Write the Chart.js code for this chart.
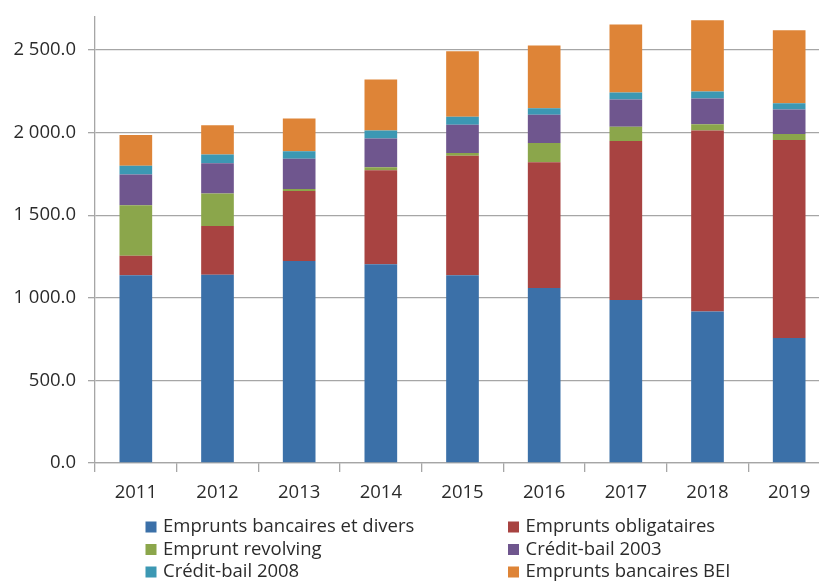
<!DOCTYPE html>
<html>
<head>
<meta charset="utf-8">
<script src="https://cdn.jsdelivr.net/npm/chart.js@4"></script>
<style>
  html, body { margin: 0; padding: 0; background: #fff; overflow: hidden; width: 819px; height: 581px; }
  canvas { display: block; }
</style>
</head>
<body>
<canvas id="c" width="830" height="581"></canvas>
<script>
const years = ['2011', '2012', '2013', '2014', '2015', '2016', '2017', '2018', '2019'];
const empruntsBancaires = [1137, 1140, 1223, 1203, 1137, 1060, 987, 917, 756];
const empruntsObligataires = [118, 295, 423, 570, 723, 760, 962, 1096, 1199];
const empruntRevolving = [305, 197, 12, 17, 16, 117, 86, 37, 36];
const creditBail2003 = [187, 182, 184, 175, 171, 171, 166, 157, 149];
const creditBail2008 = [52, 54, 46, 48, 49, 40, 42, 42, 38];
const empruntsBEI = [186, 177, 198, 309, 397, 379, 411, 431, 442];
const yTickValues = [0, 500, 1000, 1500, 2000, 2500];

const FONT = '"Open Sans"';
const FSIZE = 18.5;
const TEXT = '#2b2b2b';
const GRID = '#A6A6A6';

function fmt(v) {
  const s = v.toFixed(1);
  const [i, d] = s.split('.');
  return i.replace(/\B(?=(\d{3})+(?!\d))/g, ' ') + '.' + d;
}

const legendPlugin = {
  id: 'twoColLegend',
  afterDraw(chart) {
    const ctx = chart.ctx;
    const cols = [145.5, 508];
    const rows = [527, 549.5, 572];
    ctx.save();
    ctx.font = FSIZE + 'px ' + FONT;
    ctx.textBaseline = 'middle';
    ctx.textAlign = 'left';
    chart.data.datasets.forEach((ds, i) => {
      const x = cols[i % 2];
      const y = rows[Math.floor(i / 2)];
      ctx.fillStyle = ds.backgroundColor;
      ctx.fillRect(x, y - 5.5, 11, 11);
      ctx.fillStyle = TEXT;
      ctx.fillText(ds.label, x + 17.5, y);
    });
    ctx.restore();
  }
};

const mk = (label, data, color) => ({
  label, data, backgroundColor: color, borderWidth: 0,
  barPercentage: 0.5, categoryPercentage: 0.8
});

new Chart(document.getElementById('c'), {
  type: 'bar',
  data: {
    labels: years,
    datasets: [
      mk('Emprunts bancaires et divers', empruntsBancaires, '#3B70A8'),
      mk('Emprunts obligataires', empruntsObligataires, '#A84341'),
      mk('Emprunt revolving', empruntRevolving, '#8BA64B'),
      mk('Crédit-bail 2003', creditBail2003, '#6F568E'),
      mk('Crédit-bail 2008', creditBail2008, '#3C98B3'),
      mk('Emprunts bancaires BEI', empruntsBEI, '#DE8437')
    ]
  },
  options: {
    responsive: false,
    animation: false,
    layout: { padding: { top: 17, right: 0, left: 0, bottom: 0 } },
    plugins: {
      legend: { display: false },
      tooltip: { enabled: false }
    },
    scales: {
      x: {
        stacked: true,
        afterFit(scale) { scale.height = 118; scale.paddingLeft = 0; scale.paddingRight = 0; },
        grid: { display: true, drawOnChartArea: false, drawTicks: true, tickLength: 9, color: GRID, lineWidth: 1.3, offset: true },
        border: { color: GRID, width: 1.3 },
        ticks: { color: TEXT, font: { family: FONT, size: FSIZE }, padding: 10, maxRotation: 0 }
      },
      y: {
        stacked: true,
        min: 0,
        max: 2700,
        afterFit(scale) { scale.width = 95; scale.paddingTop = 0; scale.paddingBottom = 0; },
        afterBuildTicks(scale) { scale.ticks = yTickValues.map(v => ({ value: v })); },
        grid: { color: GRID, lineWidth: 1.3, tickLength: 7, drawTicks: true },
        border: { color: GRID, width: 1.3 },
        ticks: { color: TEXT, font: { family: FONT, size: FSIZE }, padding: 12, callback: (v) => fmt(v) }
      }
    }
  },
  plugins: [legendPlugin]
});
</script>
</body>
</html>
